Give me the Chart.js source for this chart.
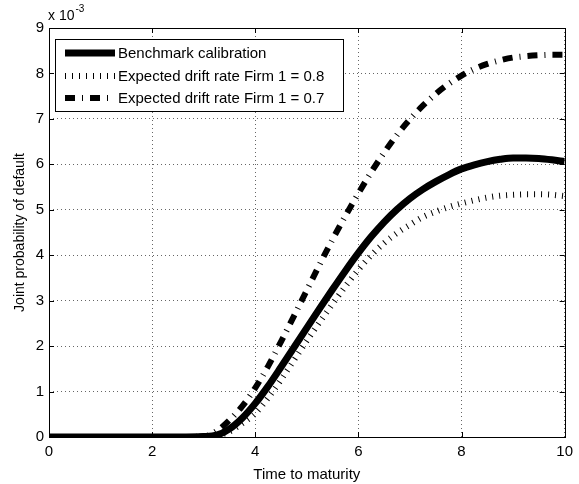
<!DOCTYPE html>
<html>
<head>
<meta charset="utf-8">
<script src="https://cdn.jsdelivr.net/npm/chart.js@4.4.1/dist/chart.umd.min.js"></script>
<style>
  html, body { margin: 0; padding: 0; background: #fff; }
  #wrap { width: 579px; height: 484px; }
</style>
</head>
<body>
<div id="wrap"><canvas id="mainChart" width="579" height="484"></canvas></div>
<script>
// Время до погашения (ось X)
const maturity = [0, 0.5, 1, 1.5, 2, 2.5, 3, 3.25, 3.5, 3.75, 4, 4.25, 4.5, 4.75, 5, 5.25, 5.5, 5.75,
    6, 6.25, 6.5, 6.75, 7, 7.25, 7.5, 7.75, 8, 8.25, 8.5, 8.75, 9, 9.25, 9.5, 9.75, 10];

// Вероятности, в единицах 10^-3
const benchmark = [0, 0, 0, 0, 0, 0, 0.01, 0.04, 0.18, 0.42, 0.74, 1.12, 1.54, 1.97, 2.4, 2.83, 3.25, 3.66,
    4.05, 4.41, 4.73, 5.01, 5.25, 5.45, 5.62, 5.77, 5.9, 5.99, 6.06, 6.11, 6.14, 6.14, 6.13, 6.1, 6.06];
const drift08 = [0, 0, 0, 0, 0, 0, 0.01, 0.03, 0.12, 0.3, 0.52, 0.86, 1.26, 1.69, 2.12, 2.53, 2.93, 3.32,
    3.68, 4.0, 4.27, 4.49, 4.67, 4.84, 4.96, 5.06, 5.14, 5.21, 5.27, 5.31, 5.33, 5.34, 5.34, 5.33, 5.3];
const drift07 = [0, 0, 0, 0, 0, 0, 0.01, 0.13, 0.37, 0.68, 1.08, 1.56, 2.1, 2.66, 3.23, 3.8, 4.35, 4.87,
    5.36, 5.83, 6.26, 6.65, 6.99, 7.29, 7.55, 7.77, 7.95, 8.1, 8.21, 8.29, 8.35, 8.38, 8.4, 8.41, 8.41];

const xTicks = [0, 2, 4, 6, 8, 10];
const yTicks = [0, 1, 2, 3, 4, 5, 6, 7, 8, 9];

const seriesLabels = [
    'Benchmark calibration',
    'Expected drift rate Firm 1 = 0.8',
    'Expected drift rate Firm 1 = 0.7'
];

const FONT = '"Liberation Sans", Arial, Helvetica, sans-serif';

function toPoints(values) {
    return maturity.map((t, i) => ({ x: t, y: values[i] }));
}

// Рамка, внутренние засечки, множитель оси и легенда
const matlabAxesPlugin = {
    id: 'matlabAxes',
    afterDraw(chart) {
        const ctx = chart.ctx;
        const area = chart.chartArea;
        const xs = chart.scales.x;
        const ys = chart.scales.y;
        const tick = 5;

        ctx.save();
        ctx.strokeStyle = '#000';
        ctx.lineWidth = 1;
        ctx.setLineDash([]);
        ctx.beginPath();
        xTicks.forEach(v => {
            const px = Math.round(xs.getPixelForValue(v)) + 0.5;
            ctx.moveTo(px, area.bottom); ctx.lineTo(px, area.bottom - tick);
            ctx.moveTo(px, area.top); ctx.lineTo(px, area.top + tick);
        });
        yTicks.forEach(v => {
            const py = Math.round(ys.getPixelForValue(v)) + 0.5;
            ctx.moveTo(area.left, py); ctx.lineTo(area.left + tick, py);
            ctx.moveTo(area.right, py); ctx.lineTo(area.right - tick, py);
        });
        ctx.stroke();
        ctx.strokeRect(Math.round(area.left) + 0.5, Math.round(area.top) + 0.5,
            Math.round(area.right - area.left), Math.round(area.bottom - area.top));

        // множитель x 10^-3
        ctx.fillStyle = '#000';
        ctx.textBaseline = 'alphabetic';
        ctx.font = '14px ' + FONT;
        ctx.fillText('x 10', 48, 20);
        const w = ctx.measureText('x 10').width;
        ctx.font = '10px ' + FONT;
        ctx.fillText('-3', 48 + w + 1, 12);

        // легенда
        const box = { x: 55.5, y: 39.5, w: 288, h: 72 };
        ctx.fillStyle = '#fff';
        ctx.fillRect(box.x, box.y, box.w, box.h);
        ctx.strokeRect(box.x, box.y, box.w, box.h);
        const rows = [53, 76, 98];
        chart.data.datasets.forEach((ds, i) => {
            ctx.save();
            ctx.strokeStyle = ds.borderColor;
            ctx.lineWidth = ds.borderWidth;
            ctx.lineCap = 'butt';
            ctx.setLineDash(ds.borderDash || []);
            ctx.beginPath();
            ctx.moveTo(65, rows[i]);
            ctx.lineTo(115, rows[i]);
            ctx.stroke();
            ctx.restore();
            ctx.fillStyle = '#000';
            ctx.font = '15px ' + FONT;
            ctx.textBaseline = 'middle';
            ctx.fillText(ds.label, 118, rows[i] + 1);
        });
        ctx.restore();
    }
};

new Chart(document.getElementById('mainChart'), {
    type: 'line',
    data: {
        datasets: [
            {
                label: seriesLabels[0],
                data: toPoints(benchmark),
                borderColor: '#000',
                borderWidth: 7,
                borderDash: [],
                pointRadius: 0,
                cubicInterpolationMode: 'monotone'
            },
            {
                label: seriesLabels[1],
                data: toPoints(drift08),
                borderColor: '#000',
                borderWidth: 6,
                borderDash: [1, 6],
                borderCapStyle: 'butt',
                pointRadius: 0,
                cubicInterpolationMode: 'monotone'
            },
            {
                label: seriesLabels[2],
                data: toPoints(drift07),
                borderColor: '#000',
                borderWidth: 6,
                borderDash: [10, 7, 1, 7],
                borderCapStyle: 'butt',
                pointRadius: 0,
                cubicInterpolationMode: 'monotone'
            }
        ]
    },
    options: {
        responsive: false,
        animation: false,
        layout: { padding: { top: 28, right: 9, left: 0, bottom: 0 } },
        plugins: {
            legend: { display: false },
            tooltip: { enabled: false }
        },
        scales: {
            x: {
                type: 'linear',
                min: 0,
                max: 10,
                afterBuildTicks: scale => { scale.ticks = xTicks.map(v => ({ value: v })); },
                afterFit: scale => { scale.height = 47; },
                grid: { color: 'rgba(0,0,0,0.6)', lineWidth: 1, drawTicks: false },
                border: { display: false, dash: [1, 3] },
                ticks: { color: '#000', padding: 6, maxRotation: 0, font: { family: FONT, size: 15 } },
                title: {
                    display: true,
                    text: 'Time to maturity',
                    color: '#000',
                    padding: { top: 0, bottom: 0 },
                    font: { family: FONT, size: 15 }
                }
            },
            y: {
                type: 'linear',
                min: 0,
                max: 9,
                afterBuildTicks: scale => { scale.ticks = yTicks.map(v => ({ value: v })); },
                afterFit: scale => { scale.width = 49; },
                grid: { color: 'rgba(0,0,0,0.6)', lineWidth: 1, drawTicks: false },
                border: { display: false, dash: [1, 3] },
                ticks: { color: '#000', padding: 5, font: { family: FONT, size: 15 } },
                title: {
                    display: true,
                    text: 'Joint probability of default',
                    color: '#000',
                    padding: { top: 12, bottom: 0 },
                    font: { family: FONT, size: 14 }
                }
            }
        }
    },
    plugins: [matlabAxesPlugin]
});
</script>
</body>
</html>
